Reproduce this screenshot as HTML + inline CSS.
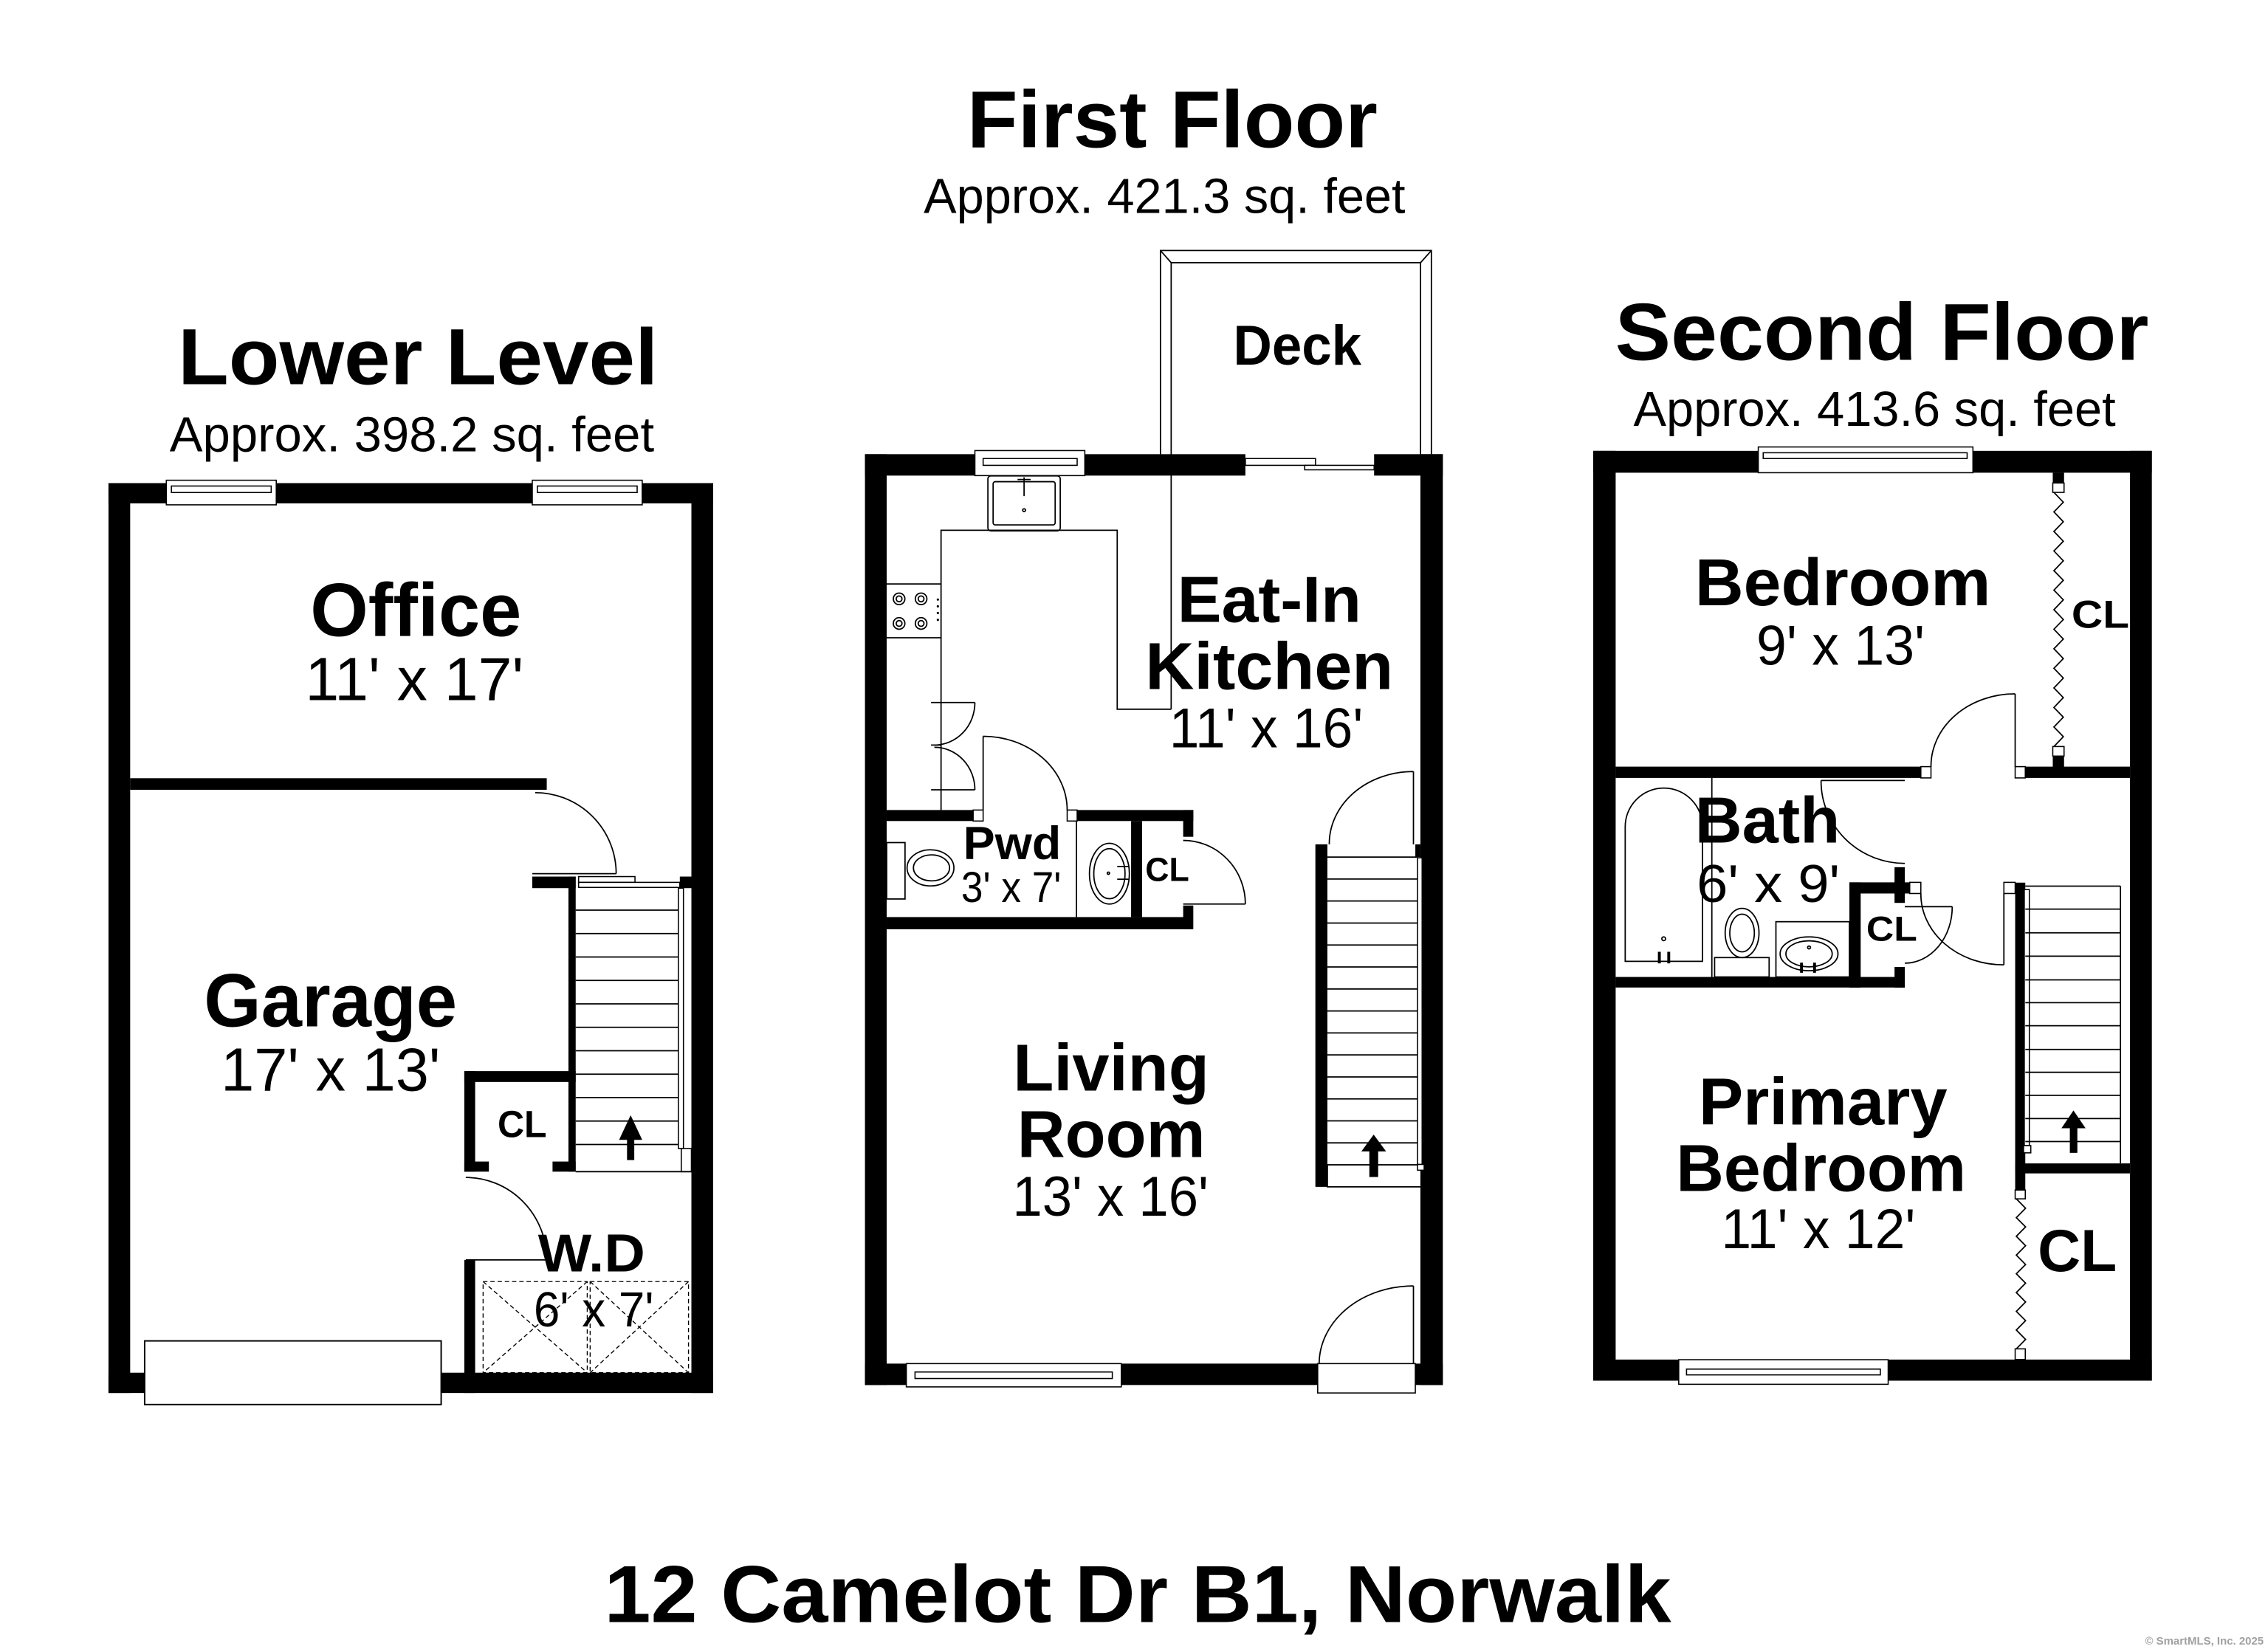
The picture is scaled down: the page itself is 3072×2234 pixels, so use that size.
<!DOCTYPE html>
<html><head><meta charset="utf-8"><style>
html,body{margin:0;padding:0;background:#fff;}
svg{display:block;}
text{font-family:"Liberation Sans",Arial,sans-serif;fill:#000;}
.b{font-weight:bold;}
</style></head><body>
<svg xmlns="http://www.w3.org/2000/svg" width="3072" height="2234" viewBox="0 0 1568 1140" preserveAspectRatio="none">
<rect width="1568" height="1140" fill="#fff"/>

<!-- ================= LOWER LEVEL ================= -->
<g fill="#000">
<rect x="75" y="334" width="15" height="629"/>
<rect x="75" y="334" width="418" height="14"/>
<rect x="478" y="334" width="15" height="629"/>
<rect x="75" y="949" width="418" height="14"/>
<rect x="90" y="538" width="288" height="8"/>
<rect x="368" y="606" width="30" height="8"/>
<rect x="470" y="606" width="8" height="8"/>
<rect x="393" y="606" width="5" height="204"/>
<rect x="321" y="740.5" width="77" height="7.5"/>
<rect x="321" y="740.5" width="7.5" height="69.5"/>
<rect x="321" y="803" width="17" height="7"/>
<rect x="382" y="803" width="16" height="7"/>
<rect x="321" y="871" width="7.5" height="92"/>
</g>
<g fill="#fff" stroke="#000" stroke-width="0.8">
<rect x="115" y="332" width="76" height="17"/>
<rect x="118.5" y="336" width="69" height="4.5"/>
<rect x="368" y="332" width="76" height="17"/>
<rect x="371.5" y="336" width="69" height="4.5"/>
<rect x="100" y="927" width="205" height="44" stroke-width="1"/>
<rect x="400" y="606" width="39" height="4"/>
<rect x="400" y="610" width="70" height="3.5"/>
<rect x="469" y="614" width="3.5" height="180"/>
<rect x="471" y="794" width="7" height="16"/>
</g>
<g fill="none" stroke="#000" stroke-width="0.9">
<path d="M370 548 A56 56 0 0 1 426 604 M368 604 H426"/>
<path d="M398 629.2H469 M398 645.4H469 M398 661.6H469 M398 677.8H469 M398 694H469 M398 710.2H469 M398 726.4H469 M398 742.6H469 M398 758.8H469 M398 775H469 M398 791.2H469 M398 810H478"/>
<path d="M322 814 A56 57 0 0 1 378 871 M322 871 H378"/>
<g stroke-dasharray="3 2" stroke-width="0.7">
<rect x="334" y="886" width="72" height="63"/>
<path d="M334 886 L406 949 M406 886 L334 949"/>
<rect x="408" y="886" width="68" height="63"/>
<path d="M408 886 L476 949 M476 886 L408 949"/>
</g>
</g>
<polygon points="436,771 428,788 444,788" fill="#000"/>
<rect x="433.5" y="787" width="5" height="15" fill="#000"/>

<text class="b" x="123" y="265.5" font-size="55" textLength="332" lengthAdjust="spacingAndGlyphs">Lower Level</text>
<text x="117.3" y="312" font-size="34" textLength="335" lengthAdjust="spacingAndGlyphs">Approx. 398.2 sq. feet</text>
<text class="b" x="214.5" y="439.5" font-size="52" textLength="146" lengthAdjust="spacingAndGlyphs">Office</text>
<text x="211" y="484" font-size="42" textLength="151" lengthAdjust="spacingAndGlyphs">11' x 17'</text>
<text class="b" x="141" y="709.5" font-size="52" textLength="175" lengthAdjust="spacingAndGlyphs">Garage</text>
<text x="152.7" y="754" font-size="42" textLength="151.7" lengthAdjust="spacingAndGlyphs">17' x 13'</text>
<text class="b" x="344" y="786" font-size="26" textLength="34" lengthAdjust="spacingAndGlyphs">CL</text>
<text class="b" x="372" y="879" font-size="37" textLength="74" lengthAdjust="spacingAndGlyphs">W.D</text>
<text x="369" y="917" font-size="34" textLength="83" lengthAdjust="spacingAndGlyphs">6' x 7'</text>

<!-- ================= FIRST FLOOR ================= -->
<g fill="none" stroke="#000" stroke-width="0.9">
<path d="M802.3 314 V173.2 H989.6 V314"/>
<path d="M809.7 490.3 V181.6 H982.1 V314"/>
<path d="M802.3 173.2 L809.7 181.6 M989.6 173.2 L982.1 181.6"/>
<path d="M650.6 560 V366.6 H772.4 V490.3 H809.7"/>
<path d="M613 403.7 H650.6 M613 440.9 H650.6"/>
<circle cx="621.6" cy="414" r="4"/><circle cx="621.6" cy="414" r="2"/>
<circle cx="636.8" cy="414" r="4"/><circle cx="636.8" cy="414" r="2"/>
<circle cx="621.6" cy="431" r="4"/><circle cx="621.6" cy="431" r="2"/>
<circle cx="636.8" cy="431" r="4"/><circle cx="636.8" cy="431" r="2"/>
<rect x="683" y="329" width="50" height="38" rx="2"/>
<rect x="686.6" y="333" width="42.9" height="29.9" rx="1.5"/>
<path d="M708 330 V343 M703.5 331.5 H712.5"/>
<circle cx="708" cy="352.7" r="1"/>
<path d="M643.7 485.7 H674 M643.7 515.1 H650.6 M643.7 546 H674"/>
<path d="M674 485.7 A28 29.4 0 0 1 646 515.1 M646 516.6 A28 29.4 0 0 1 674 546"/>
<path d="M679.7 509 A58 51 0 0 1 737.8 560 M679.7 509 V560"/>
<path d="M818 581 A43 44 0 0 1 861 625 M818 625 H861"/>
<path d="M744.2 567.6 V634"/>
<rect x="613" y="582.5" width="12.7" height="39"/>
<ellipse cx="643.3" cy="600" rx="16.2" ry="12.5"/>
<ellipse cx="644" cy="600" rx="12.5" ry="9"/>
<ellipse cx="767" cy="604" rx="13.8" ry="21"/>
<ellipse cx="767" cy="604" rx="10.8" ry="17.3"/>
<circle cx="766.3" cy="603.7" r="0.8"/>
<path d="M772.4 599 H780.7 M772.4 607.8 H780.7"/>
<path d="M917.7 592.5H980 M917.7 607.7H980 M917.7 622.9H980 M917.7 638.1H980 M917.7 653.3H980 M917.7 668.5H980 M917.7 683.7H980 M917.7 698.9H980 M917.7 714.1H980 M917.7 729.3H980 M917.7 744.5H980 M917.7 759.7H980 M917.7 774.9H980 M917.7 790.1H980 M917.7 805.3H980"/>
<rect x="917.7" y="805.3" width="69" height="15.2"/>
<path d="M977.2 533.4 A58 50 0 0 0 919 583.7 M977.2 533.4 V583.7"/>
<path d="M977.2 889 A65 54 0 0 0 912 942.7 M977.2 889 V942.7"/>
</g>
<g fill="#000">
<rect x="598" y="314" width="15" height="643.5"/>
<rect x="598" y="314" width="76" height="14.8"/>
<rect x="750" y="314" width="111" height="14.8"/>
<rect x="950" y="314" width="47.5" height="14.8"/>
<rect x="982" y="314" width="15.5" height="643.5"/>
<rect x="598" y="942.7" width="313" height="14.8"/>
<rect x="978" y="942.7" width="19.5" height="14.8"/>
<rect x="613" y="560" width="60" height="7.6"/>
<rect x="744.7" y="560" width="80.3" height="7.6"/>
<rect x="613" y="634" width="211.4" height="8.4"/>
<rect x="818" y="560" width="7" height="18.5"/>
<rect x="818" y="626" width="7" height="16.4"/>
<rect x="782" y="567.6" width="7.6" height="66.4"/>
<rect x="909.4" y="583.7" width="8.3" height="236.8"/>
<rect x="978.5" y="583.7" width="3.5" height="8.8"/>
<circle cx="648.4" cy="414.5" r="0.8"/><circle cx="648.4" cy="419.2" r="0.8"/>
<circle cx="648.4" cy="423.8" r="0.8"/><circle cx="648.4" cy="428.5" r="0.8"/>
<polygon points="949.7,784.4 941.2,796 958.3,796"/>
<rect x="946.7" y="795" width="6.1" height="18.7"/>
</g>
<g fill="#fff" stroke="#000" stroke-width="0.8">
<rect x="674" y="311.5" width="76" height="17.3"/>
<rect x="679.7" y="317" width="65" height="4.7"/>
<rect x="626.6" y="942.7" width="148.6" height="16.1"/>
<rect x="632.6" y="948.5" width="136.4" height="4.5"/>
<rect x="861" y="317" width="48.5" height="4.7"/>
<rect x="902" y="321.7" width="48" height="3.1"/>
<rect x="672.8" y="560" width="6.9" height="7.6"/>
<rect x="737.8" y="560" width="6.9" height="7.6"/>
<rect x="980" y="593" width="3.2" height="212"/>
<rect x="980" y="805" width="4.6" height="4"/>
<rect x="911" y="942.7" width="67.5" height="20.3"/>
</g>

<text class="b" x="668.6" y="101.7" font-size="56" textLength="283.8" lengthAdjust="spacingAndGlyphs">First Floor</text>
<text x="638.6" y="147.2" font-size="34" textLength="333" lengthAdjust="spacingAndGlyphs">Approx. 421.3 sq. feet</text>
<text class="b" x="852.6" y="252" font-size="39" textLength="88.6" lengthAdjust="spacingAndGlyphs">Deck</text>
<text class="b" x="813.9" y="430" font-size="45" textLength="127.3" lengthAdjust="spacingAndGlyphs">Eat-In</text>
<text class="b" x="791.8" y="476.4" font-size="46" textLength="171.5" lengthAdjust="spacingAndGlyphs">Kitchen</text>
<text x="808.4" y="516.7" font-size="39" textLength="134" lengthAdjust="spacingAndGlyphs">11' x 16'</text>
<text class="b" x="665.9" y="594" font-size="32" textLength="67.7" lengthAdjust="spacingAndGlyphs">Pwd</text>
<text x="664.5" y="623.5" font-size="30" textLength="69.2" lengthAdjust="spacingAndGlyphs">3' x 7'</text>
<text class="b" x="791.8" y="609" font-size="23" textLength="30.4" lengthAdjust="spacingAndGlyphs">CL</text>
<text class="b" x="700.4" y="754" font-size="46" textLength="135.6" lengthAdjust="spacingAndGlyphs">Living</text>
<text class="b" x="703.2" y="800" font-size="46" textLength="130.1" lengthAdjust="spacingAndGlyphs">Room</text>
<text x="700" y="840.5" font-size="39" textLength="135.5" lengthAdjust="spacingAndGlyphs">13' x 16'</text>

<!-- ================= SECOND FLOOR ================= -->
<g fill="#000">
<rect x="1101.5" y="311.7" width="15.5" height="642.8"/>
<rect x="1101.5" y="311.7" width="114.1" height="15.1"/>
<rect x="1364" y="311.7" width="123.7" height="15.1"/>
<rect x="1472.6" y="311.7" width="15.1" height="642.8"/>
<rect x="1101.5" y="939.9" width="59.1" height="14.6"/>
<rect x="1305.4" y="939.9" width="182.3" height="14.6"/>
<rect x="1419.2" y="326.8" width="7.8" height="7.1"/>
<rect x="1419.2" y="522.7" width="7.8" height="7.8"/>
<rect x="1117" y="530" width="211" height="7.8"/>
<rect x="1400.2" y="530" width="72.4" height="7.8"/>
<rect x="1309.8" y="599.5" width="7.1" height="24.7"/>
<rect x="1278.6" y="610" width="41.7" height="7.7"/>
<rect x="1278.6" y="610" width="7.8" height="72.8"/>
<rect x="1309.8" y="668.5" width="7.1" height="14.3"/>
<rect x="1117" y="675.4" width="199.9" height="7.3"/>
<rect x="1393.2" y="610.2" width="7" height="212.5"/>
<rect x="1393.2" y="804.3" width="79.4" height="6.9"/>
<polygon points="1433.5,767.7 1425.2,780 1441.9,780"/>
<rect x="1431" y="779" width="5.2" height="18"/>
</g>
<g fill="#fff" stroke="#000" stroke-width="0.8">
<rect x="1215.6" y="309" width="148.4" height="17.8"/>
<rect x="1219" y="313" width="141" height="4"/>
<rect x="1160.6" y="940" width="144.8" height="17"/>
<rect x="1166" y="946.5" width="134" height="4"/>
<rect x="1419.2" y="333.9" width="7.8" height="6.5"/>
<rect x="1419.2" y="516.1" width="7.8" height="6.6"/>
<rect x="1328" y="530" width="7" height="7.8"/>
<rect x="1393.2" y="530" width="7" height="7.8"/>
<rect x="1320.3" y="610" width="7.7" height="7.7"/>
<rect x="1385.4" y="610" width="7.8" height="7.7"/>
<rect x="1393.2" y="822.7" width="7" height="6.1"/>
<rect x="1393.2" y="932.5" width="7" height="7.4"/>
<rect x="1399.5" y="615" width="3.5" height="177"/>
<rect x="1399" y="792" width="5" height="5"/>
</g>
<g fill="none" stroke="#000" stroke-width="0.9">
<path d="M1420 340.4 L1426.5 347.2 L1420 353.9 L1426.5 360.7 L1420 367.4 L1426.5 374.2 L1420 380.9 L1426.5 387.7 L1420 394.5 L1426.5 401.2 L1420 408 L1426.5 414.7 L1420 421.5 L1426.5 428.3 L1420 435 L1426.5 441.8 L1420 448.5 L1426.5 455.3 L1420 462 L1426.5 468.8 L1420 475.6 L1426.5 482.3 L1420 489.1 L1426.5 495.8 L1420 502.6 L1426.5 509.3 L1420 516.1"/>
<path d="M1394 828.8 L1400.4 835.3 L1394 841.8 L1400.4 848.2 L1394 854.7 L1400.4 861.2 L1394 867.7 L1400.4 874.2 L1394 880.6 L1400.4 887.1 L1394 893.6 L1400.4 900.1 L1394 906.6 L1400.4 913 L1394 919.5 L1400.4 926 L1394 932.5"/>
<path d="M1393.2 479.7 A58 50 0 0 0 1335 530 M1393.2 479.7 V530"/>
<path d="M1259 539.6 H1316.9 M1259 539.6 A58 57 0 0 0 1316.9 596.9"/>
<path d="M1316.9 626.8 H1349.7 M1349.7 626.8 A33 39 0 0 1 1316.9 665.9"/>
<path d="M1328 617.7 A57 49 0 0 0 1385.4 667 M1385.4 617.7 V667"/>
<path d="M1183.5 537.8 V675.4"/>
<path d="M1123.6 664.6 V571.5 A26.7 26.7 0 0 1 1177 571.5 V664.6 Z"/>
<circle cx="1150.2" cy="649" r="1.3"/>
<ellipse cx="1204.4" cy="645" rx="11.7" ry="17"/>
<ellipse cx="1204.4" cy="645" rx="8.5" ry="13"/>
<rect x="1185.4" y="662" width="37.7" height="13.4"/>
<rect x="1227.8" y="637.2" width="50.8" height="38.2"/>
<ellipse cx="1250.7" cy="659.4" rx="20" ry="11.7"/>
<ellipse cx="1250.7" cy="659.4" rx="16" ry="9"/>
<circle cx="1250.7" cy="655" r="1"/>
<path d="M1400.2 612.6H1466 M1400.2 628.5H1466 M1400.2 644.9H1466 M1400.2 661H1466 M1400.2 677.4H1466 M1400.2 693.2H1466 M1400.2 709.1H1466 M1400.2 725.5H1466 M1400.2 741.3H1466 M1400.2 757.2H1466 M1400.2 773.3H1466 M1400.2 789.2H1466 M1466 612.6 V804.3"/>
</g>
<g fill="#000">
<rect x="1146.2" y="658" width="2" height="8"/>
<rect x="1152.7" y="658" width="2" height="8"/>
<rect x="1244.5" y="665.5" width="2" height="7"/>
<rect x="1253.5" y="665.5" width="2" height="7"/>
</g>

<text class="b" x="1116.6" y="248.8" font-size="56" textLength="368.9" lengthAdjust="spacingAndGlyphs">Second Floor</text>
<text x="1129.3" y="294.4" font-size="34" textLength="333.4" lengthAdjust="spacingAndGlyphs">Approx. 413.6 sq. feet</text>
<text class="b" x="1171.8" y="418.5" font-size="46" textLength="204.5" lengthAdjust="spacingAndGlyphs">Bedroom</text>
<text x="1214.3" y="459.5" font-size="39" textLength="116.4" lengthAdjust="spacingAndGlyphs">9' x 13'</text>
<text class="b" x="1432.2" y="434.1" font-size="27" textLength="39.9" lengthAdjust="spacingAndGlyphs">CL</text>
<text class="b" x="1171.8" y="582.6" font-size="45" textLength="100.3" lengthAdjust="spacingAndGlyphs">Bath</text>
<text x="1173" y="623.5" font-size="37" textLength="99" lengthAdjust="spacingAndGlyphs">6' x 9'</text>
<text class="b" x="1290.3" y="650.3" font-size="24" textLength="35.2" lengthAdjust="spacingAndGlyphs">CL</text>
<text class="b" x="1174.4" y="777.5" font-size="46" textLength="171.9" lengthAdjust="spacingAndGlyphs">Primary</text>
<text class="b" x="1158.8" y="823.4" font-size="46" textLength="200.5" lengthAdjust="spacingAndGlyphs">Bedroom</text>
<text x="1190" y="863" font-size="39" textLength="134.2" lengthAdjust="spacingAndGlyphs">11' x 12'</text>
<text class="b" x="1408.8" y="878.8" font-size="41" textLength="54.7" lengthAdjust="spacingAndGlyphs">CL</text>

<!-- ================= FOOTER ================= -->
<text class="b" x="417.7" y="1121.4" font-size="56" textLength="737.7" lengthAdjust="spacingAndGlyphs">12 Camelot Dr B1, Norwalk</text>
<text class="b" x="1483" y="1137" font-size="7.5" textLength="82" lengthAdjust="spacingAndGlyphs" style="fill:#a0a0a0">© SmartMLS, Inc.  2025</text>
</svg>
</body></html>
